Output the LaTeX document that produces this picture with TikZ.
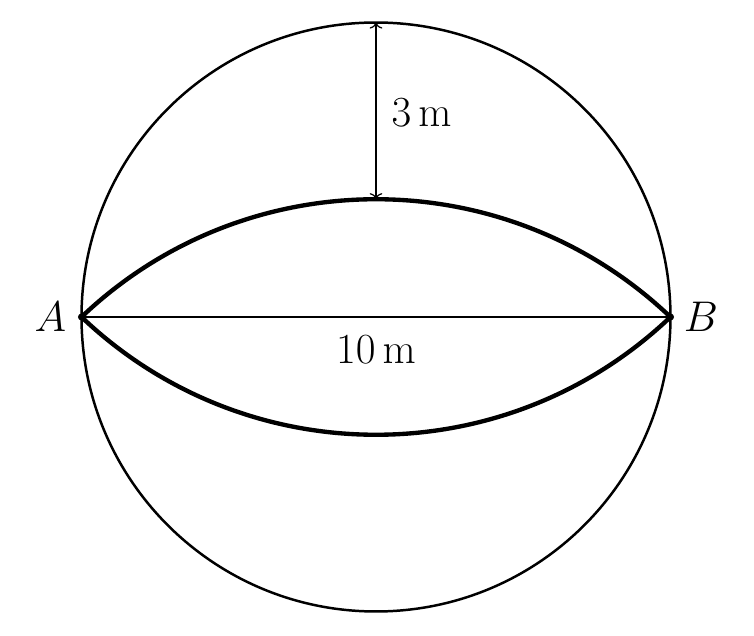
\documentclass[tikz,border=0pt]{standalone}
\usepackage{amsmath}
\usetikzlibrary{arrows.meta,positioning}

\begin{document}
\begin{tikzpicture}[font=\fontsize{20.3}{24}\selectfont]
	\tikzstyle{dot} = [circle, fill=black, inner sep=0pt, minimum size=0.12cm]
	\tikzstyle{rim} = [line width=1.2pt]
	\tikzstyle{chord} = [line width=1.3pt]
	\tikzstyle{bow} = [line width=2.1pt]
	\tikzstyle{dim} = [line width=0.6pt,<->]
	\useasboundingbox (-6.384,-5.416) rectangle (6.418,5.382);
	\coordinate (centre) at (0,0);
	\coordinate (top) at (0,5);
	\coordinate (peak) at (0,2);
	\node (A) [dot] at (-5,0) {};
	\node (B) [dot] at (5,0) {};
	\node (labelA) [left=2pt of A] {$A$};
	\node (labelB) [right=1pt of B] {$B$};
	\node (height) at (0.773,3.47) {$3\,\mathrm{m}$};
	\node (width) at (0,-0.55) {$10\,\mathrm{m}$};
	\draw [rim] (centre) circle[radius=5];
	\draw [chord] (A.center) -- (B.center);
	\draw [bow] (A.center) arc[start angle=133.6, end angle=46.4, radius=7.25];
	\draw [bow] (A.center) arc[start angle=226.4, end angle=313.6, radius=7.25];
	\draw [dim] (peak) -- (top);
\end{tikzpicture}
\end{document}
